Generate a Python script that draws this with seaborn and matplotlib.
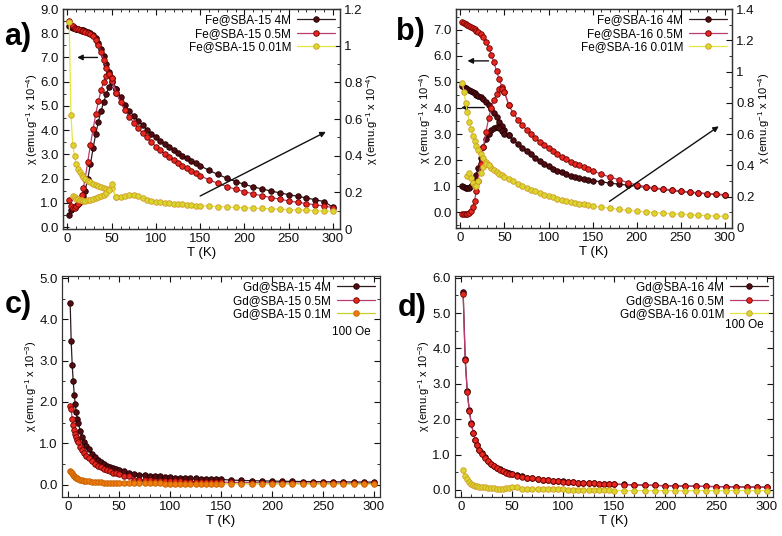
import matplotlib
matplotlib.use("Agg")
import matplotlib.pyplot as plt
import seaborn as sns
from matplotlib.ticker import MultipleLocator, FormatStrFormatter

# temperature grids (K)
T_main = [2, 4, 6, 8, 10, 12, 14, 16, 18, 20,
          23, 26, 29, 32, 35, 38, 41, 44, 47, 50,
          55, 60, 65, 70, 75, 80, 85, 90, 95, 100,
          105, 110, 115, 120, 125, 130, 135, 140, 145, 150,
          160, 170, 180, 190, 200, 210, 220, 230, 240, 250,
          260, 270, 280, 290, 300]
T_gd = [2, 3, 4, 5, 6, 7, 8, 9, 10, 12,
        14, 16, 18, 20, 23, 26, 29, 32, 35, 38,
        41, 44, 47, 50, 55, 60, 65, 70, 75, 80,
        85, 90, 95, 100, 105, 110, 115, 120, 125, 130,
        135, 140, 145, 150, 160, 170, 180, 190, 200, 210,
        220, 230, 240, 250, 260, 270, 280, 290, 300]

# ---- panel a : Fe@SBA-15 (x 10^-4) ----
a_4M_fc = [8.28, 8.25, 8.22, 8.2, 8.18, 8.16, 8.15, 8.14, 8.12, 8.1,
           8.07, 8.02, 7.94, 7.8, 7.6, 7.35, 7.05, 6.72, 6.42, 6.15,
           5.7, 5.35, 5.05, 4.8, 4.58, 4.38, 4.2, 4.02, 3.86, 3.7,
           3.55, 3.42, 3.3, 3.18, 3.06, 2.95, 2.84, 2.73, 2.63, 2.53,
           2.34, 2.17, 2.02, 1.88, 1.76, 1.66, 1.57, 1.49, 1.41, 1.34,
           1.27, 1.2, 1.13, 1.05, 0.82]
a_4M_zfc = [0.5, 0.72, 0.78, 0.82, 0.88, 0.95, 1.02, 1.12, 1.28, 1.5,
            2.0, 2.6, 3.25, 3.85, 4.35, 4.8, 5.15, 5.5, 5.8, 6.0, 5.7]
a_05M_fc = [8.5, 8.35, 8.28, 8.23, 8.19, 8.16, 8.13, 8.1, 8.08, 8.05,
            8.02, 7.97, 7.88, 7.72, 7.5, 7.22, 6.9, 6.58, 6.3, 6.02,
            5.55, 5.15, 4.82, 4.55, 4.3, 4.08, 3.88, 3.7, 3.5, 3.32,
            3.17, 3.03, 2.9, 2.77, 2.65, 2.53, 2.42, 2.32, 2.22, 2.12,
            1.95, 1.8, 1.67, 1.56, 1.46, 1.37, 1.29, 1.22, 1.15, 1.08,
            1.02, 0.97, 0.92, 0.87, 0.8]
a_05M_zfc = [1.1, 0.88, 0.8, 0.8, 0.85, 0.95, 1.12, 1.32, 1.6, 2.0,
             2.7, 3.4, 4.05, 4.65, 5.2, 5.65, 6.0, 6.25, 6.3, 6.15, 5.55]
a_001M_fc = [1.13, 0.62, 0.46, 0.4, 0.355, 0.33, 0.31, 0.295, 0.283, 0.273,
             0.262, 0.255, 0.248, 0.242, 0.236, 0.23, 0.225, 0.22, 0.217, 0.222,
             0.172, 0.174, 0.18, 0.185, 0.187, 0.18, 0.17, 0.16, 0.153, 0.148,
             0.145, 0.142, 0.14, 0.138, 0.136, 0.134, 0.132, 0.13, 0.128, 0.127,
             0.125, 0.122, 0.12, 0.118, 0.116, 0.114, 0.112, 0.11, 0.108, 0.106,
             0.104, 0.102, 0.1, 0.098, 0.096]
a_001M_zfc = [0.18, 0.172, 0.166, 0.161, 0.158, 0.156, 0.155, 0.155, 0.157, 0.16,
              0.163, 0.167, 0.172, 0.178, 0.186, 0.196, 0.212, 0.245, 0.172]

# ---- panel b : Fe@SBA-16 (x 10^-4) ----
b_4M_fc = [4.85, 4.8, 4.76, 4.72, 4.68, 4.64, 4.6, 4.56, 4.52, 4.48,
           4.42, 4.34, 4.24, 4.12, 3.98, 3.82, 3.64, 3.45, 3.3, 3.15,
           2.95, 2.78, 2.62, 2.48, 2.35, 2.22, 2.1, 1.98, 1.87, 1.77,
           1.68, 1.6, 1.53, 1.47, 1.41, 1.36, 1.32, 1.28, 1.25, 1.22,
           1.17, 1.12, 1.08, 1.04, 1.0, 0.96, 0.92, 0.88, 0.84, 0.8,
           0.77, 0.74, 0.71, 0.69, 0.66]
b_4M_zfc = [1.0, 0.98, 0.95, 0.93, 0.95, 1.0, 1.1, 1.25, 1.45, 1.7,
            2.1, 2.5, 2.8, 3.02, 3.15, 3.23, 3.26, 3.22, 3.12, 3.0, 2.95]
b_05M_fc = [7.32, 7.26, 7.22, 7.18, 7.14, 7.1, 7.06, 7.02, 6.97, 6.92,
            6.84, 6.72, 6.55, 6.32, 6.05, 5.75, 5.42, 5.1, 4.82, 4.6,
            4.1, 3.8, 3.55, 3.35, 3.17, 3.0, 2.85, 2.7, 2.57, 2.45,
            2.34, 2.23, 2.13, 2.04, 1.95, 1.87, 1.8, 1.73, 1.66, 1.6,
            1.46, 1.35, 1.25, 1.14, 1.05, 0.99, 0.94, 0.9, 0.86, 0.82,
            0.78, 0.75, 0.72, 0.7, 0.68]
b_05M_zfc = [-0.05, -0.07, -0.08, -0.07, -0.03, 0.05, 0.2, 0.45, 0.8, 1.2,
             1.85, 2.5, 3.1, 3.6, 4.0, 4.3, 4.55, 4.72, 4.75, 4.62, 4.1]
b_001M_fc = [0.93, 0.87, 0.8, 0.74, 0.68, 0.63, 0.59, 0.555, 0.525, 0.5,
             0.47, 0.445, 0.422, 0.402, 0.385, 0.37, 0.358, 0.347, 0.337, 0.328,
             0.312, 0.298, 0.284, 0.27, 0.257, 0.245, 0.234, 0.223, 0.213, 0.204,
             0.196, 0.188, 0.181, 0.174, 0.168, 0.162, 0.156, 0.151, 0.146, 0.141,
             0.133, 0.126, 0.119, 0.113, 0.108, 0.103, 0.099, 0.095, 0.091, 0.088,
             0.085, 0.082, 0.079, 0.076, 0.074]
b_001M_zfc = [0.33, 0.35, 0.32, 0.29, 0.27, 0.27, 0.3, 0.35, 0.39, 0.41, 0.402]

# ---- panel c : Gd@SBA-15 (x 10^-3) ----
c_4M = [4.4, 3.48, 2.9, 2.5, 2.18, 1.95, 1.75, 1.6, 1.48, 1.3,
        1.15, 1.03, 0.93, 0.85, 0.75, 0.67, 0.6, 0.55, 0.5, 0.46,
        0.43, 0.4, 0.37, 0.35, 0.32, 0.29, 0.25, 0.24, 0.23, 0.22,
        0.21, 0.2, 0.19, 0.18, 0.17, 0.165, 0.16, 0.155, 0.15, 0.145,
        0.14, 0.135, 0.13, 0.125, 0.11, 0.1, 0.095, 0.09, 0.085, 0.08,
        0.078, 0.075, 0.072, 0.07, 0.068, 0.066, 0.064, 0.062, 0.06]
c_05M = [1.9, 1.82, 1.6, 1.45, 1.33, 1.23, 1.15, 1.08, 1.02, 0.92,
         0.83, 0.76, 0.7, 0.65, 0.57, 0.51, 0.46, 0.42, 0.38, 0.35,
         0.32, 0.29, 0.27, 0.25, 0.22, 0.2, 0.12, 0.11, 0.105, 0.1,
         0.095, 0.09, 0.087, 0.084, 0.08, 0.077, 0.074, 0.072, 0.07, 0.068,
         0.066, 0.064, 0.062, 0.06, 0.055, 0.051, 0.048, 0.045, 0.043, 0.041,
         0.039, 0.037, 0.036, 0.035, 0.034, 0.033, 0.032, 0.031, 0.03]
c_01M = [0.33, 0.3, 0.27, 0.24, 0.21, 0.19, 0.17, 0.155, 0.14, 0.12,
         0.105, 0.095, 0.085, 0.078, 0.07, 0.063, 0.058, 0.054, 0.05, 0.047,
         0.044, 0.042, 0.04, 0.038, 0.036, 0.034, 0.032, 0.031, 0.03, 0.029,
         0.028, 0.027, 0.026, 0.025, 0.025, 0.024, 0.023, 0.023, 0.022, 0.022,
         0.021, 0.021, 0.02, 0.02, 0.019, 0.018, 0.017, 0.016, 0.016, 0.015,
         0.014, 0.014, 0.013, 0.013, 0.012, 0.012, 0.011, 0.011, 0.01]

# ---- panel d : Gd@SBA-16 (x 10^-3) ----
d_4M = [5.6, 3.7, 2.8, 2.25, 1.88, 1.62, 1.42, 1.27, 1.14, 1.04,
        0.92, 0.82, 0.74, 0.68, 0.62, 0.58, 0.54, 0.5, 0.47, 0.45,
        0.41, 0.38, 0.35, 0.33, 0.31, 0.29, 0.275, 0.26, 0.25, 0.24,
        0.23, 0.22, 0.21, 0.2, 0.195, 0.19, 0.18, 0.175, 0.17, 0.165,
        0.155, 0.145, 0.135, 0.13, 0.12, 0.115, 0.11, 0.105, 0.1, 0.095,
        0.09, 0.087, 0.083, 0.08, 0.077]
d_05M = [5.55, 3.68, 2.78, 2.24, 1.87, 1.61, 1.41, 1.26, 1.13, 1.03,
         0.91, 0.81, 0.73, 0.67, 0.61, 0.57, 0.53, 0.49, 0.46, 0.44,
         0.4, 0.37, 0.345, 0.325, 0.305, 0.285, 0.27, 0.255, 0.245, 0.235,
         0.225, 0.215, 0.205, 0.195, 0.19, 0.185, 0.175, 0.17, 0.165, 0.16,
         0.15, 0.14, 0.132, 0.126, 0.118, 0.112, 0.107, 0.102, 0.097, 0.093,
         0.088, 0.085, 0.081, 0.078, 0.075]
d_001M = [0.55, 0.4, 0.3, 0.22, 0.17, 0.14, 0.12, 0.1, 0.09, 0.08,
          0.07, 0.06, 0.05, 0.045, 0.04, 0.04, 0.04, 0.045, 0.06, 0.08,
          0.07, 0.04, 0.035, 0.03, 0.028, 0.025, 0.022, 0.02, 0.018, 0.015,
          0.012, 0.01, 0.008, 0.005, 0.003, 0.0, -0.005, -0.01, -0.015, -0.02,
          -0.02, -0.02, -0.02, -0.02, -0.02, -0.02, -0.02, -0.02, -0.02, -0.02,
          -0.02, -0.02, -0.02, -0.02, -0.02]

# (face, edge, line)
C_4M = ("#520c12", "#1e0000", "#2e1c1c")
C_05M = ("#e8281e", "#6a0000", "#b83c70")
C_001M = ("#d8d82c", "#d49a2a", "#e6e640")
C_01M = ("#f07c10", "#c46000", "#c8d030")

sns.set_theme(style="ticks")
plt.rcParams["font.family"] = ["Liberation Sans", "DejaVu Sans"]
plt.rcParams["mathtext.default"] = "regular"
plt.rcParams["axes.edgecolor"] = "#333333"
plt.rcParams["axes.linewidth"] = 0.9
plt.rcParams["text.color"] = "black"
plt.rcParams["axes.labelcolor"] = "black"

YL4 = r"χ (emu.g$^{-1}$ x 10$^{-4}$)"
YL3 = r"χ (emu.g$^{-1}$ x 10$^{-3}$)"


def curve(ax, T, y, col, z=2):
    sns.lineplot(x=T, y=y, ax=ax, color=col[2], marker="o", markersize=4.0,
                 markerfacecolor=col[0], markeredgecolor=col[1],
                 markeredgewidth=0.6, linewidth=0.9, legend=False,
                 estimator=None, sort=False, zorder=z)
    return ax.lines[-1]


def style(ax, ylim, ymaj, xlim=(-5, 308)):
    ax.set_xlim(*xlim)
    ax.set_ylim(*ylim)
    ax.xaxis.set_major_locator(MultipleLocator(50))
    ax.xaxis.set_minor_locator(MultipleLocator(10))
    ax.yaxis.set_major_locator(MultipleLocator(ymaj))
    ax.yaxis.set_minor_locator(MultipleLocator(ymaj / 2))
    ax.yaxis.set_major_formatter(FormatStrFormatter("%.1f"))
    ax.tick_params(which="both", direction="in", top=True, labelsize=9.5,
                   pad=3, colors="#111111")
    ax.tick_params(which="major", length=4, width=0.8)
    ax.tick_params(which="minor", length=2, width=0.6)
    ax.set_xlabel("T (K)", fontsize=9.5, labelpad=1)


def style_right(ax2, ylim, step):
    ax2.set_ylim(*ylim)
    ax2.yaxis.set_major_locator(MultipleLocator(step))
    ax2.yaxis.set_minor_locator(MultipleLocator(step / 2))
    ax2.yaxis.set_major_formatter(FormatStrFormatter("%g"))
    ax2.tick_params(which="both", direction="in", labelsize=9.5, pad=3,
                    colors="#111111")
    ax2.tick_params(which="major", length=4, width=0.8)
    ax2.tick_params(which="minor", length=2, width=0.6)


def legend(ax, handles, labels):
    ax.legend(handles, labels, loc="upper right", markerfirst=False,
              frameon=False, fontsize=8.5, handlelength=3.2,
              handletextpad=0.5, labelspacing=0.12, borderaxespad=0.25,
              borderpad=0.2)


def arrow(ax, tail, head):
    ax.annotate("", xy=head, xytext=tail,
                arrowprops=dict(arrowstyle="-|>", color="#111111", lw=1.0,
                                mutation_scale=8, shrinkA=0, shrinkB=0))


fig = plt.figure(figsize=(7.82, 5.36), dpi=100)
W, H = 782, 536


def box(l, t, r, b):
    return [l / W, 1 - b / H, (r - l) / W, (b - t) / H]


# panel a
ax = fig.add_axes(box(63, 9, 340, 229))
ax2 = ax.twinx()
h1 = curve(ax, T_main, a_4M_fc, C_4M)
curve(ax, T_main[:21], a_4M_zfc, C_4M)
h2 = curve(ax, T_main, a_05M_fc, C_05M, 3)
curve(ax, T_main[:21], a_05M_zfc, C_05M, 3)
h3 = curve(ax2, T_main, a_001M_fc, C_001M)
curve(ax2, T_main[2:21], a_001M_zfc, C_001M)
style(ax, (-0.08, 9.0), 1.0)
style_right(ax2, (0, 1.2), 0.2)
ax.set_ylabel(YL4, fontsize=8, labelpad=0)
ax2.set_ylabel(YL4, fontsize=8, labelpad=1)
legend(ax2, [h1, h2, h3], ["Fe@SBA-15 4M", "Fe@SBA-15 0.5M", "Fe@SBA-15 0.01M"])
arrow(ax, (34, 7.0), (11, 7.0))
arrow(ax2, (150, 0.18), (292, 0.53))

# panel b
ax = fig.add_axes(box(456, 9, 732, 228))
ax2 = ax.twinx()
h1 = curve(ax, T_main, b_4M_fc, C_4M)
curve(ax, T_main[:21], b_4M_zfc, C_4M)
h2 = curve(ax, T_main, b_05M_fc, C_05M, 3)
curve(ax, T_main[:21], b_05M_zfc, C_05M, 3)
h3 = curve(ax2, T_main, b_001M_fc, C_001M)
curve(ax2, T_main[3:14], b_001M_zfc, C_001M)
style(ax, (-0.6, 7.8), 1.0)
style_right(ax2, (0, 1.4), 0.2)
ax.set_ylabel(YL4, fontsize=8, labelpad=0)
ax2.set_ylabel(YL4, fontsize=8, labelpad=1)
legend(ax2, [h1, h2, h3], ["Fe@SBA-16 4M", "Fe@SBA-16 0.5M", "Fe@SBA-16 0.01M"])
arrow(ax, (32, 5.81), (8, 5.81))
arrow(ax, (27, 4.02), (1, 4.02))
arrow(ax, (169, 0.42), (293, 3.3))

# panel c
ax = fig.add_axes(box(62, 276, 380, 497))
h1 = curve(ax, T_gd, c_4M, C_4M)
h2 = curve(ax, T_gd, c_05M, C_05M, 3)
h3 = curve(ax, T_gd, c_01M, C_01M, 4)
style(ax, (-0.3, 5.05), 1.0, (-6, 306))
ax.tick_params(which="both", right=True)
ax.set_ylabel(YL3, fontsize=8, labelpad=0)
legend(ax, [h1, h2, h3], ["Gd@SBA-15 4M", "Gd@SBA-15 0.5M", "Gd@SBA-15 0.1M"])
ax.text(0.969, 0.745, "100 Oe", transform=ax.transAxes, ha="right",
        va="center", fontsize=8.5)

# panel d
ax = fig.add_axes(box(455, 276, 773, 497))
h1 = curve(ax, T_main, d_4M, C_4M)
h2 = curve(ax, T_main, d_05M, C_05M, 3)
h3 = curve(ax, T_main, d_001M, C_001M, 4)
style(ax, (-0.2, 6.05), 1.0, (-6, 306))
ax.tick_params(which="both", right=True)
ax.set_ylabel(YL3, fontsize=8, labelpad=0)
legend(ax, [h1, h2, h3], ["Gd@SBA-16 4M", "Gd@SBA-16 0.5M", "Gd@SBA-16 0.01M"])
ax.text(0.969, 0.78, "100 Oe", transform=ax.transAxes, ha="right",
        va="center", fontsize=8.5)

# panel letters
for s, x, y in [("a)", 18, 37), ("b)", 410, 32), ("c)", 18, 305), ("d)", 412, 308)]:
    fig.text(x / W, 1 - y / H, s, fontsize=22, fontweight="bold",
             ha="center", va="center", color="black")

fig.savefig("out.png", dpi=100)
